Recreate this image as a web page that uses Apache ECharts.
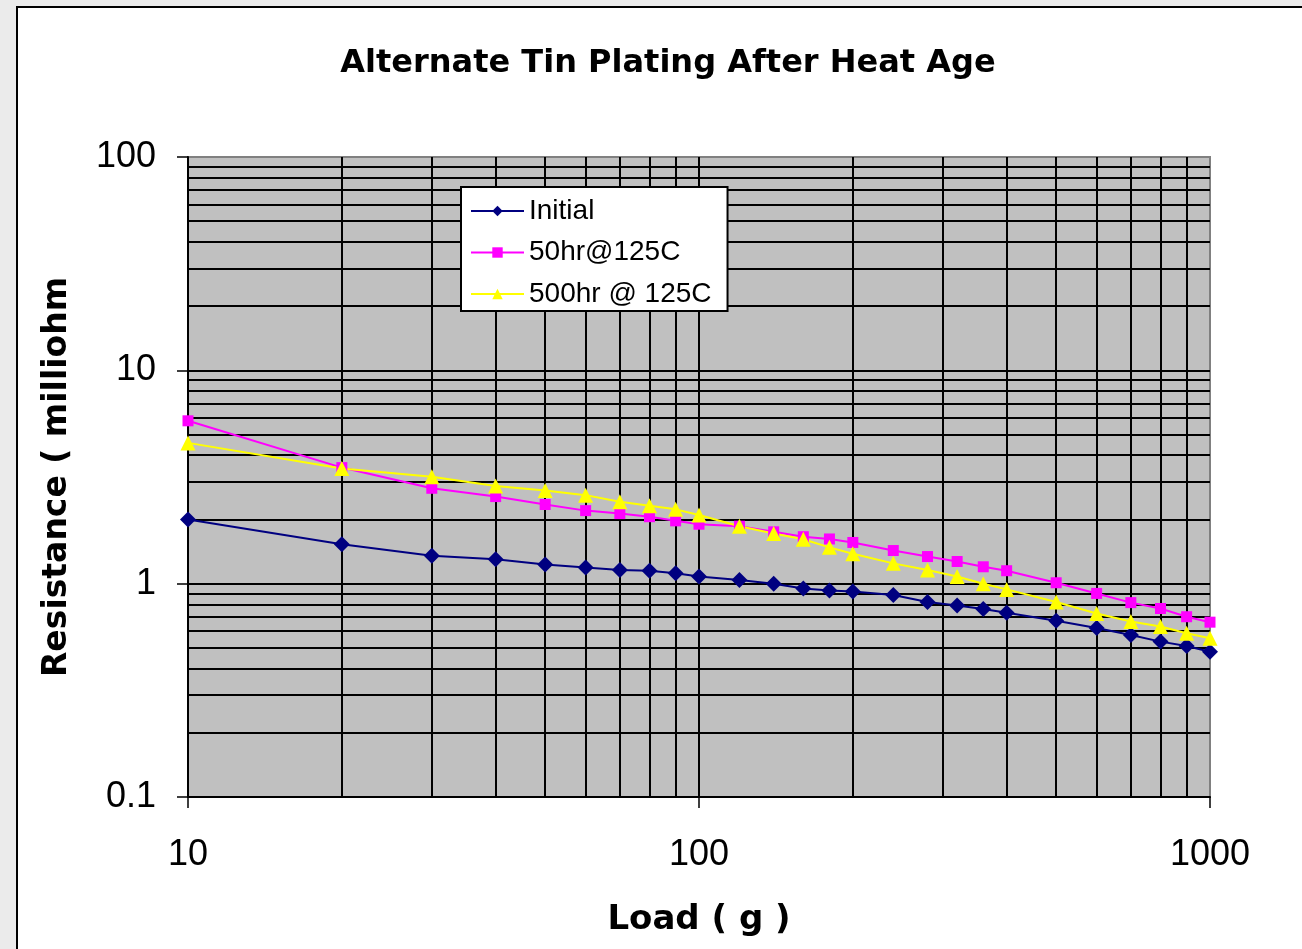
<!DOCTYPE html>
<html>
<head>
<meta charset="utf-8">
<script src="https://cdn.jsdelivr.net/npm/echarts@6/dist/echarts.min.js"></script>
<style>
  html, body { margin: 0; padding: 0; background: #ebebeb; }
  #chart { width: 1302px; height: 949px; }
</style>
</head>
<body>
<div id="chart"></div>
<script>
// load (g) at each measurement
const loads = [10, 20, 30, 40, 50, 60, 70, 80, 90, 100, 120, 140, 160, 180, 200,
    240, 280, 320, 360, 400, 500, 600, 700, 800, 900, 1000];

// resistance (milliohm)
const initial = [2.0, 1.53, 1.35, 1.30, 1.23, 1.19, 1.16, 1.15, 1.12, 1.08, 1.04, 1.0, 0.95, 0.93, 0.92,
    0.885, 0.82, 0.79, 0.76, 0.73, 0.67, 0.62, 0.575, 0.535, 0.51, 0.48];
const hr50 = [5.8, 3.5, 2.8, 2.56, 2.35, 2.2, 2.13, 2.06, 1.97, 1.9, 1.86, 1.75, 1.66, 1.62, 1.56,
    1.43, 1.34, 1.27, 1.2, 1.15, 1.01, 0.9, 0.815, 0.765, 0.7, 0.66];
const hr500 = [4.57, 3.47, 3.17, 2.87, 2.73, 2.6, 2.42, 2.32, 2.23, 2.1, 1.86, 1.72, 1.615, 1.48, 1.38,
    1.245, 1.16, 1.08, 1.0, 0.94, 0.82, 0.725, 0.665, 0.63, 0.585, 0.555];

const seriesNames = ['Initial', '50hr@125C', '500hr @ 125C'];

// minor grid lines (log axes, 2..9 of each decade)
const xMinor = [20, 30, 40, 50, 60, 70, 80, 90, 200, 300, 400, 500, 600, 700, 800, 900];
const yMinor = [0.2, 0.3, 0.4, 0.5, 0.6, 0.7, 0.8, 0.9, 2, 3, 4, 5, 6, 7, 8, 9,
    20, 30, 40, 50, 60, 70, 80, 90];

function pairs(ys) {
    return loads.map(function (x, i) { return [x, ys[i]]; });
}

function plainNum(v) {
    return String(+v.toPrecision(3));
}

const chart = echarts.init(document.getElementById('chart'));

const gridLines = [];
xMinor.forEach(function (v) { gridLines.push({ xAxis: v }); });
yMinor.forEach(function (v) { gridLines.push({ yAxis: v }); });

const option = {
    animation: false,
    backgroundColor: 'transparent',
    graphic: [{
        type: 'rect',
        shape: { x: 17, y: 7, width: 1400, height: 1000 },
        style: { fill: '#ffffff', stroke: '#000000', lineWidth: 2 },
        z: -10, silent: true
    }],
    title: {
        text: 'Alternate Tin Plating After Heat Age',
        left: 663,
        textAlign: 'center',
        top: 43,
        textStyle: { fontFamily: 'DejaVu Sans', fontWeight: 'bold', fontSize: 32, color: '#000' }
    },
    legend: {
        orient: 'vertical',
        left: 461,
        top: 187,
        z: 10,
        data: seriesNames,
        backgroundColor: '#ffffff',
        borderColor: '#000000',
        borderWidth: 2,
        borderRadius: 0,
        padding: [10, 16, 3, 9],
        itemWidth: 53,
        itemHeight: 13,
        itemGap: 13.5,
        textStyle: { fontFamily: 'Liberation Sans', fontSize: 28, color: '#000', padding: [0, 0, 0, 0] }
    },
    grid: {
        left: 188, top: 157, right: 92, bottom: 152,
        show: true,
        backgroundColor: '#c0c0c0',
        borderColor: '#808080',
        borderWidth: 2
    },
    xAxis: {
        type: 'log',
        logBase: 10,
        min: 10,
        max: 1000,
        name: 'Load ( g )',
        nameLocation: 'middle',
        nameGap: 106,
        nameTextStyle: { fontFamily: 'DejaVu Sans', fontWeight: 'bold', fontSize: 34, color: '#000' },
        axisLine: { lineStyle: { color: '#000', width: 2 } },
        axisTick: { show: true, length: 11, lineStyle: { color: '#000', width: 1.5 } },
        axisLabel: { margin: 40, fontFamily: 'Liberation Sans', fontSize: 36, color: '#000', formatter: plainNum },
        splitLine: { show: true, showMaxLine: false, lineStyle: { color: '#000', width: 2 } }
    },
    yAxis: {
        type: 'log',
        logBase: 10,
        min: 0.1,
        max: 100,
        name: 'Resistance ( milliohm',
        nameLocation: 'middle',
        nameRotate: 90,
        nameGap: 114,
        nameTextStyle: { fontFamily: 'DejaVu Sans', fontWeight: 'bold', fontSize: 33, color: '#000' },
        axisLine: { lineStyle: { color: '#000', width: 2 } },
        axisTick: { show: true, length: 11, lineStyle: { color: '#000', width: 1.5 } },
        axisLabel: { margin: 32, fontFamily: 'Liberation Sans', fontSize: 36, color: '#000', formatter: plainNum },
        splitLine: { show: true, showMaxLine: false, lineStyle: { color: '#000', width: 2 } }
    },
    series: [
        {
            name: 'grid',
            type: 'line',
            data: [[10, 1]],
            showSymbol: false,
            lineStyle: { width: 0 },
            silent: true,
            z: 1,
            markLine: {
                z: 1,
                silent: true,
                symbol: 'none',
                label: { show: false },
                lineStyle: { color: '#000', width: 2, type: 'solid' },
                emphasis: { disabled: true },
                data: gridLines
            }
        },
        {
            name: seriesNames[0],
            type: 'line',
            data: pairs(initial),
            symbol: 'diamond',
            symbolSize: 16,
            itemStyle: { color: '#000080' },
            lineStyle: { color: '#000080', width: 2 },
            z: 3
        },
        {
            name: seriesNames[1],
            type: 'line',
            data: pairs(hr50),
            symbol: 'rect',
            symbolSize: 11,
            itemStyle: { color: '#ff00ff' },
            lineStyle: { color: '#ff00ff', width: 2 },
            z: 3
        },
        {
            name: seriesNames[2],
            type: 'line',
            data: pairs(hr500),
            symbol: 'triangle',
            symbolSize: 15,
            itemStyle: { color: '#ffff00' },
            lineStyle: { color: '#ffff00', width: 2 },
            z: 3
        }
    ]
};

chart.setOption(option);
</script>
</body>
</html>
